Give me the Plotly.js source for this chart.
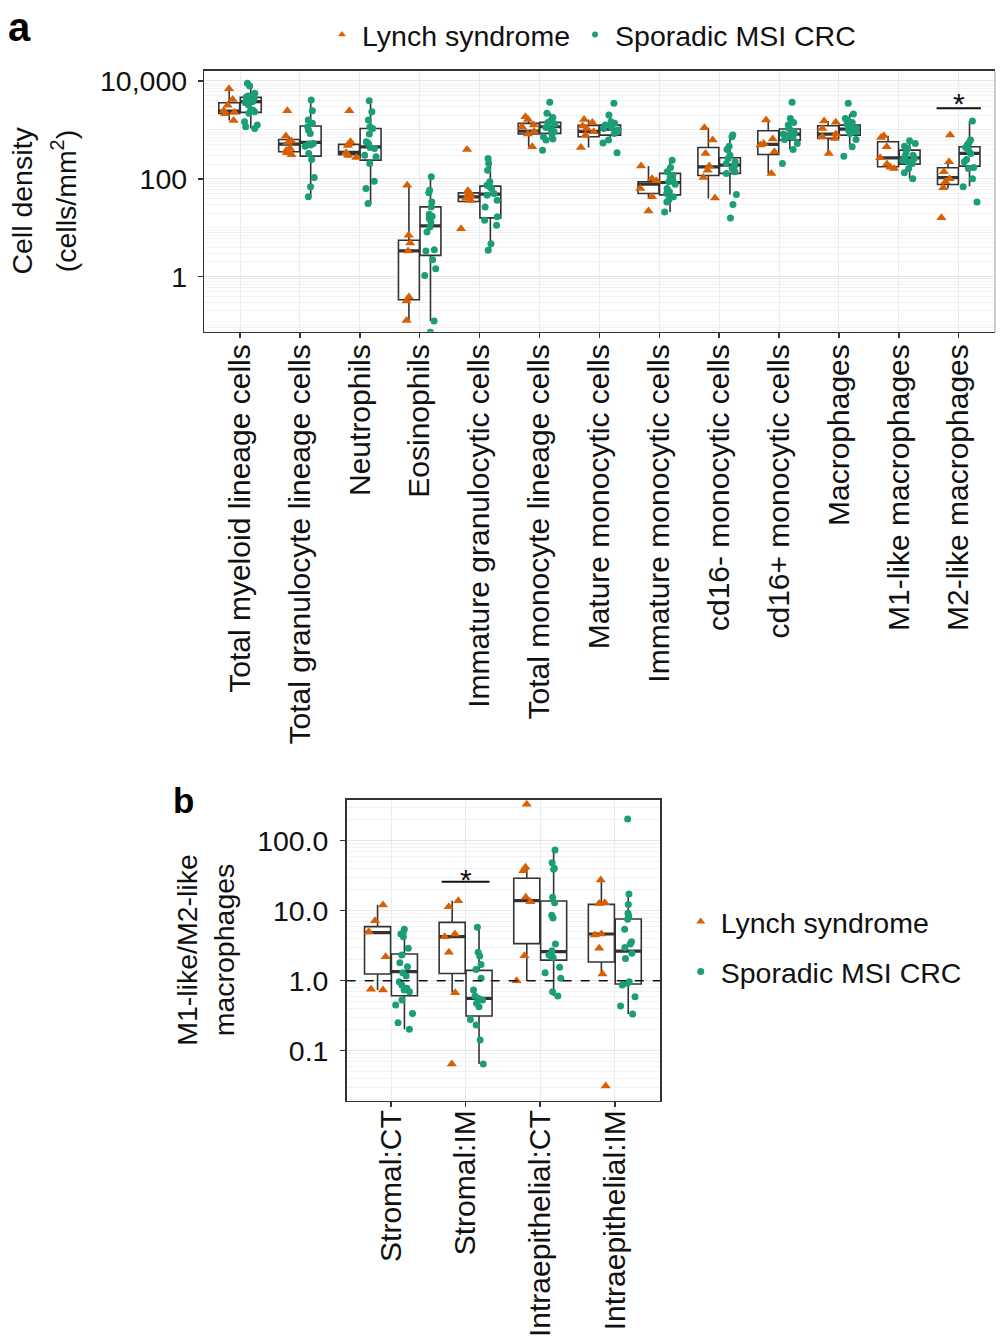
<!DOCTYPE html>
<html>
<head>
<meta charset="utf-8">
<script src="https://cdn.plot.ly/plotly-3.0.1.min.js"></script>
<style>
  html, body { margin: 0; padding: 0; background: #fff; }
  #graph { width: 1004px; height: 1342px; }
</style>
</head>
<body>
<div id="graph"></div>
<script>
'use strict';

// ---- data ----

var cellTypes = ['Total myeloid lineage cells', 'Total granulocyte lineage cells', 'Neutrophils',
  'Eosinophils', 'Immature granulocytic cells', 'Total monocyte lineage cells',
  'Mature monocytic cells', 'Immature monocytic cells', 'cd16- monocytic cells',
  'cd16+ monocytic cells', 'Macrophages', 'M1-like macrophages', 'M2-like macrophages'];

var regions = ['Stromal:CT', 'Stromal:IM', 'Intraepithelial:CT', 'Intraepithelial:IM'];

// box stats per category: [q1, median, q3, lower whisker, upper whisker]
var lynchBoxA = [
  [2180, 2430, 3600, 1550, 6900], [357, 513, 638, 310, 747], [310, 346, 505, 274, 573],
  [0.338, 3.36, 5.55, 0.128, 74.2], [34.3, 42.8, 51.7, 34.3, 56.8], [822, 946, 1360, 452, 1860],
  [724, 931, 1236, 438, 1640], [50.1, 77.8, 86.9, 41.5, 182], [117, 176, 438, 39.5, 1110],
  [315, 505, 961, 129, 1590], [670, 822, 1217, 330, 1520], [176, 269, 573, 163, 760],
  [76.6, 106, 168, 63.4, 223]
];
var sporadicBoxA = [
  [2280, 3780, 4630, 1070, 8960], [291, 554, 1200, 42.8, 4080], [241, 452, 1070, 31.2, 3950],
  [2.73, 10.9, 26.7, 0.124, 110], [15.9, 48.5, 70.8, 3.46, 261], [848, 1160, 1425, 619, 2180],
  [783, 1040, 1255, 540, 2010], [47.0, 84.1, 129, 21.1, 241], [129, 191, 269, 47.8, 783],
  [619, 822, 1040, 399, 1720], [783, 1040, 1255, 452, 2110], [200, 269, 386, 100, 600],
  [182, 330, 452, 70.8, 1520]
];

// single samples per category
var lynchPtsA = [
  [6900, 4200, 3200, 2450, 2300, 2150, 1550],
  [2470, 747, 590, 550, 418, 386, 341, 310],
  [2470, 573, 520, 480, 340, 300, 274],
  [74.2, 7.02, 4.89, 3.36, 0.384, 0.318, 0.128],
  [399, 56.8, 51.7, 44, 40, 36, 9.6],
  [1860, 1640, 1255, 1160, 930, 822, 452],
  [1640, 1410, 1200, 1070, 916, 783, 438],
  [182, 100, 91.6, 63.4, 42.8, 22.1],
  [1110, 619, 330, 182, 150, 106, 40.8],
  [1590, 649, 529, 489, 357, 129],
  [1520, 1430, 1070, 822, 724, 670, 330],
  [760, 700, 452, 270, 200, 172, 163],
  [783, 223, 139, 100, 86.9, 65.8, 16.1]
];
var sporadicPtsA = [
  [8960, 7900, 5590, 4930, 4630, 4210, 3950, 3780, 3600, 3220, 2550, 2470, 2350, 2180, 1470, 1260, 1160, 1070],
  [4080, 2470, 1590, 1360, 1160, 993, 848, 529, 513, 489, 466, 330, 249, 106, 68.6, 42.8],
  [3950, 2355, 1590, 1160, 1070, 822, 573, 529, 438, 418, 305, 282, 206, 89.5, 63.4, 31.2],
  [110, 58.6, 51.7, 33.8, 26.7, 18.9, 17.2, 15.4, 13.2, 10.4, 8.22, 3.57, 3.36, 2.23, 1.46, 1.06, 0.124, 0.0736],
  [261, 206, 150, 86.9, 74.2, 68.6, 63.4, 50.1, 46.3, 36.6, 26.7, 16.7, 14.3, 11.2, 4.74, 3.46],
  [3660, 2180, 1800, 1540, 1410, 1315, 1200, 1125, 997, 916, 822, 724, 649, 619, 386],
  [3490, 2010, 1470, 1360, 1255, 1160, 1070, 997, 916, 848, 619, 540, 341],
  [241, 171, 139, 119, 106, 93.9, 86.9, 77.8, 63.4, 54.2, 50.1, 42.8, 37.8, 33.8, 21.1],
  [783, 724, 466, 399, 305, 261, 223, 206, 182, 163, 139, 129, 47.8, 29.8, 15.9],
  [3660, 1720, 1410, 1255, 1070, 961, 875, 822, 748, 701, 638, 529, 399, 206],
  [3490, 2110, 1720, 1590, 1410, 1315, 1160, 1070, 997, 916, 848, 638, 452, 291],
  [600, 529, 466, 418, 341, 305, 282, 261, 241, 223, 206, 163, 133, 100],
  [1520, 619, 540, 489, 438, 386, 330, 249, 223, 171, 163, 100, 68.6, 33.8]
];

var lynchBoxB = [
  [1.245, 4.85, 5.91, 0.735, 12.05], [1.27, 4.25, 6.81, 0.674, 13.9],
  [3.38, 13.9, 29.0, 1.0, 41.6], [1.85, 4.64, 12.3, 1.245, 27.4]
];
var sporadicBoxB = [
  [0.611, 1.345, 2.40, 0.202, 5.41], [0.313, 0.559, 1.405, 0.0645, 5.78],
  [1.97, 2.60, 13.75, 0.604, 73.6], [0.896, 2.65, 7.60, 0.334, 17.3]
];
var lynchPtsB = [
  [12.05, 7.2, 5.0, 2.2, 0.752, 0.735],
  [13.9, 11.4, 4.64, 4.25, 2.54, 0.674, 0.0645],
  [330, 41.6, 37.3, 15.5, 13.4, 2.28, 1.0],
  [27.4, 13.0, 12.7, 4.64, 4.5, 2.90, 1.245, 0.0313]
];
var sporadicPtsB = [
  [5.41, 4.85, 4.64, 4.25, 2.90, 2.33, 1.81, 1.585, 1.30, 1.166, 0.968, 0.867, 0.777, 0.735, 0.697, 0.530, 0.449, 0.341, 0.251, 0.202],
  [5.78, 2.54, 2.25, 1.71, 1.45, 1.08, 0.735, 0.604, 0.559, 0.530, 0.475, 0.425, 0.280, 0.233, 0.142, 0.0645],
  [73.6, 48.5, 40.3, 38.9, 15.5, 13.0, 8.58, 7.85, 3.34, 2.68, 2.33, 2.25, 2.15, 1.55, 1.30, 1.08, 0.697, 0.604],
  [204, 17.3, 12.3, 9.16, 8.39, 7.52, 5.41, 3.61, 3.34, 2.99, 2.46, 2.08, 0.968, 0.916, 0.867, 0.591, 0.435, 0.334]
];

// significance brackets: category index and height of the bar
var sigA = { at: 12, y: 2767 };
var sigB = { at: 1, y: 25.9 };

// ---- styles ----

var FONT = 'Liberation Sans, Arial, Helvetica, sans-serif';
var INK = '#111';
var LYNCH = { name: 'Lynch syndrome', color: '#D95F02', symbol: 'triangle-up', size: 9 };
var SPORADIC = { name: 'Sporadic MSI CRC', color: '#1B9E77', symbol: 'circle', size: 7 };

function col( rows, i ){
  return rows.map(function( r ){ return r[i]; });
}

function boxTrace( cats, stats, xa, ya, group, align ){
  return {
    type: 'box', x: cats, xaxis: xa, yaxis: ya,
    q1: col(stats, 0), median: col(stats, 1), q3: col(stats, 2),
    lowerfence: col(stats, 3), upperfence: col(stats, 4),
    boxpoints: false,
    offsetgroup: group, alignmentgroup: align,
    fillcolor: '#fff',
    line: { color: '#333', width: 1.6 },
    whiskerwidth: 0,
    showlegend: false, hoverinfo: 'skip'
  };
}

// ggplot draws the median twice as thick: a flat box on top of it does the same
function medianTrace( cats, stats, xa, ya, group, align ){
  var m = col(stats, 1);
  return {
    type: 'box', x: cats, xaxis: xa, yaxis: ya,
    q1: m, median: m, q3: m, lowerfence: m, upperfence: m,
    boxpoints: false,
    offsetgroup: group, alignmentgroup: align,
    fillcolor: 'rgba(0,0,0,0)',
    line: { color: '#333', width: 3.2 },
    whiskerwidth: 0,
    showlegend: false, hoverinfo: 'skip'
  };
}

function pointTrace( cats, pts, xa, ya, group, align, s ){
  var x = [], y = [];
  pts.forEach(function( arr, i ){
    arr.forEach(function( v ){ x.push(cats[i]); y.push(v); });
  });
  return {
    type: 'box', x: x, y: y, xaxis: xa, yaxis: ya,
    boxpoints: 'all', jitter: 0.8, pointpos: 0,
    offsetgroup: group, alignmentgroup: align,
    fillcolor: 'rgba(0,0,0,0)',
    line: { width: 0, color: 'rgba(0,0,0,0)' },
    whiskerwidth: 0,
    marker: { symbol: s.symbol, color: s.color, size: s.size, line: { width: 0 } },
    showlegend: false, hoverinfo: 'y'
  };
}

function legendTrace( s, legend, size ){
  return {
    type: 'scatter', mode: 'markers', x: [null], y: [null],
    xaxis: 'x', yaxis: 'y',
    name: s.name, legend: legend, legendgroup: legend + s.name,
    marker: { symbol: s.symbol, color: s.color, size: size }
  };
}

var data = [
  boxTrace(cellTypes, lynchBoxA, 'x', 'y', 'L', 'A'),
  boxTrace(cellTypes, sporadicBoxA, 'x', 'y', 'S', 'A'),
  medianTrace(cellTypes, lynchBoxA, 'x', 'y', 'L', 'A'),
  medianTrace(cellTypes, sporadicBoxA, 'x', 'y', 'S', 'A'),
  pointTrace(cellTypes, lynchPtsA, 'x', 'y', 'L', 'A', LYNCH),
  pointTrace(cellTypes, sporadicPtsA, 'x', 'y', 'S', 'A', SPORADIC),
  boxTrace(regions, lynchBoxB, 'x2', 'y2', 'L', 'B'),
  boxTrace(regions, sporadicBoxB, 'x2', 'y2', 'S', 'B'),
  medianTrace(regions, lynchBoxB, 'x2', 'y2', 'L', 'B'),
  medianTrace(regions, sporadicBoxB, 'x2', 'y2', 'S', 'B'),
  pointTrace(regions, lynchPtsB, 'x2', 'y2', 'L', 'B', LYNCH),
  pointTrace(regions, sporadicPtsB, 'x2', 'y2', 'S', 'B', SPORADIC),
  legendTrace(LYNCH, 'legend', 7),
  legendTrace(SPORADIC, 'legend', 6),
  legendTrace(LYNCH, 'legend2', 8),
  legendTrace(SPORADIC, 'legend2', 7)
];

var catAxis = {
  type: 'category',
  ticks: 'outside', ticklen: 5, tickwidth: 1.5, tickcolor: '#333',
  tickangle: -90,
  tickfont: { family: FONT, size: 30, color: INK },
  showline: true, linecolor: '#333', linewidth: 1.5,
  showgrid: true, gridcolor: '#ebebeb', gridwidth: 1,
  zeroline: false, fixedrange: true
};

var logAxis = {
  type: 'log',
  ticks: 'outside', ticklen: 5, tickwidth: 1.5, tickcolor: '#333',
  tickfont: { family: FONT, size: 28.5, color: INK },
  showline: true, linecolor: '#333', linewidth: 1.5,
  showgrid: true, gridcolor: '#e6e6e6', gridwidth: 1,
  minor: { tickmode: 'linear', dtick: 'D1', showgrid: true, gridcolor: '#f2f2f2', gridwidth: 1, ticks: '' },
  zeroline: false, fixedrange: true
};

var layout = {
  width: 1004, height: 1342,
  margin: { l: 0, r: 0, t: 0, b: 0 },
  paper_bgcolor: '#fff', plot_bgcolor: '#fff',
  font: { family: FONT, size: 28.5, color: INK },
  boxmode: 'group', boxgap: 0.28, boxgroupgap: 0.03,
  showlegend: true,

  xaxis: Object.assign({}, catAxis, {
    domain: [0.2035, 0.991], range: [-0.596, 12.605], anchor: 'y', mirror: true,
    ticklabelstandoff: -6
  }),
  yaxis: Object.assign({}, logAxis, {
    domain: [0.7528, 0.9471], range: [-1.125, 4.204], anchor: 'x',
    tickvals: [1, 100, 10000], ticktext: ['1', '100', '10,000'], ticklabelstandoff: 5
  }),
  xaxis2: Object.assign({}, catAxis, {
    domain: [0.3453, 0.6574], range: [-0.594, 3.606], anchor: 'y2', mirror: true,
    ticklabelstandoff: -9
  }),
  yaxis2: Object.assign({}, logAxis, {
    domain: [0.1798, 0.4039], range: [-1.714, 2.581], anchor: 'x2', mirror: true,
    tickvals: [0.1, 1, 10, 100], ticktext: ['0.1', '1.0', '10.0', '100.0'], ticklabelstandoff: 6
  }),

  legend: {
    orientation: 'h', x: 0.3207, y: 0.974, xanchor: 'left', yanchor: 'middle',
    font: { family: FONT, size: 28.5, color: INK }, bgcolor: 'rgba(0,0,0,0)', itemwidth: 30
  },
  legend2: {
    orientation: 'v', x: 0.678, y: 0.332, xanchor: 'left', yanchor: 'top',
    font: { family: FONT, size: 28.5, color: INK }, bgcolor: 'rgba(0,0,0,0)', itemwidth: 30,
    traceorder: 'grouped', tracegroupgap: 10
  },

  shapes: [
    { type: 'line', xref: 'x domain', x0: 1, x1: 1, yref: 'y domain', y0: 0, y1: 1,
      line: { color: '#bdbdbd', width: 1.5 } },
    { type: 'line', xref: 'x2 domain', x0: 0, x1: 1, yref: 'y2', y0: 1, y1: 1,
      line: { color: INK, width: 1.6, dash: 'dash' } },
    { type: 'line', xref: 'x', x0: sigA.at - 0.37, x1: sigA.at + 0.37, yref: 'y', y0: sigA.y, y1: sigA.y,
      line: { color: INK, width: 1.8 } },
    { type: 'line', xref: 'x2', x0: sigB.at - 0.32, x1: sigB.at + 0.32, yref: 'y2', y0: sigB.y, y1: sigB.y,
      line: { color: INK, width: 1.8 } }
  ],

  annotations: [
    { xref: 'paper', yref: 'paper', x: 0.006, y: 0.9975, xanchor: 'left', yanchor: 'top',
      text: '<b>a</b>', showarrow: false, font: { family: FONT, size: 40, color: '#000' } },
    { xref: 'paper', yref: 'paper', x: 0.170, y: 0.4197, xanchor: 'left', yanchor: 'top',
      text: '<b>b</b>', showarrow: false, font: { family: FONT, size: 35, color: '#000' } },
    { xref: 'paper', yref: 'paper', x: 0.0215, y: 0.8502, xanchor: 'center', yanchor: 'middle',
      textangle: -90, showarrow: false, text: 'Cell density',
      font: { family: FONT, size: 28.5, color: INK } },
    { xref: 'paper', yref: 'paper', x: 0.064, y: 0.8502, xanchor: 'center', yanchor: 'middle',
      textangle: -90, showarrow: false, text: '(cells/mm<sup>2</sup>)',
      font: { family: FONT, size: 28.5, color: INK } },
    { xref: 'paper', yref: 'paper', x: 0.204, y: 0.2921, xanchor: 'center', yanchor: 'middle',
      textangle: -90, showarrow: false, text: 'M1-like/M2-like<br>macrophages',
      font: { family: FONT, size: 28.5, color: INK } },
    { xref: 'x', yref: 'y', x: sigA.at, y: Math.log10(sigA.y), xanchor: 'center', yanchor: 'bottom',
      yshift: -14, text: '*', showarrow: false, font: { family: FONT, size: 30, color: INK } },
    { xref: 'x2', yref: 'y2', x: sigB.at, y: Math.log10(sigB.y), xanchor: 'center', yanchor: 'bottom',
      yshift: -16, text: '*', showarrow: false, font: { family: FONT, size: 30, color: INK } }
  ]
};

var conf = { displayModeBar: false, staticPlot: true };

Plotly.newPlot(document.getElementById('graph'), data, layout, conf);
</script>
</body>
</html>
